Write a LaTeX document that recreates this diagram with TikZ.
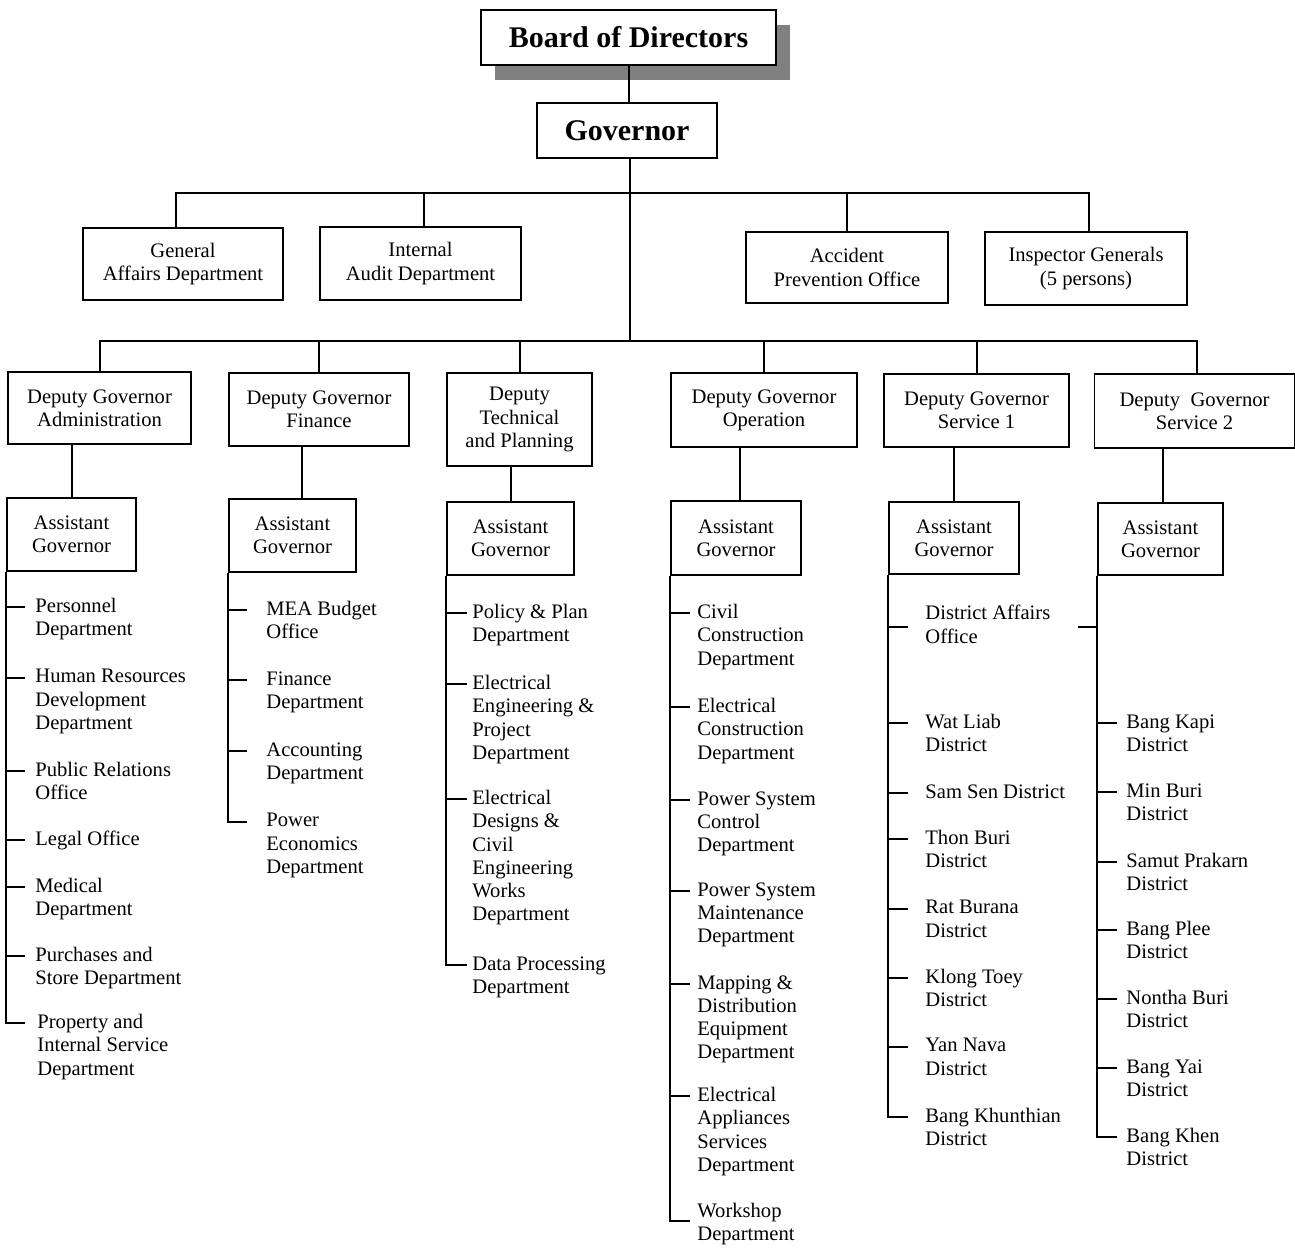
\documentclass[tikz,border=0pt]{standalone}
\usepackage{fontspec}
\setmainfont{Liberation Serif}
\usetikzlibrary{shadows}

\newcommand\orgfont{\fontsize{10.3}{11.6}\selectfont}
\newcommand\bigfont{\fontsize{15}{18}\selectfont\bfseries}

% department hanging from an assistant governor's spine
% #1 name, #2 assistant box, #3 text x, #4 stub y, #5 gap before text, #6 text
\newcommand\dept[6]{%
  \node[item] (#1) at (#3,#4-9) {#6};
  \coordinate (#1-tip) at (#3-#5,#4);
  \draw[stub] (#2.south west |- #1-tip) -- (#1-tip);}

\tikzset{
  box/.style={draw,line width=0.9pt,fill=white,align=center,font=\orgfont,inner sep=0pt},
  item/.style={anchor=north west,align=left,font=\orgfont,inner sep=0pt},
  wire/.style={line width=1pt},
  stub/.style={line width=0.8pt},
}

\begin{document}
\begin{tikzpicture}[x=0.5pt,y=-0.5pt]
\useasboundingbox (0,0) rectangle (1295,1248);

% top of the hierarchy
\node[box,font=\bigfont,minimum width=147.5pt,minimum height=27.5pt,
      drop shadow={shadow xshift=7pt,shadow yshift=-7.5pt,fill=black!50,opacity=1}]
  (board) at (628.5,37.5) {Board of Directors};
\node[box,font=\bigfont,minimum width=90pt,minimum height=27.5pt]
  (gov) at (627,130.5) {Governor};

% staff units
\node[box,minimum width=100pt,minimum height=36pt]   (gen) at (183,264)     {General\\Affairs Department};
\node[box,minimum width=100.5pt,minimum height=36.5pt] (aud) at (420.5,263.5) {Internal\\Audit Department};
\node[box,minimum width=101pt,minimum height=35.5pt] (acc) at (847,267.5)   {Accident\\Prevention Office};
\node[box,minimum width=101pt,minimum height=36.5pt] (ins) at (1086,268.5)  {Inspector Generals\\(5 persons)};

% deputy governors
\node[box,minimum width=91.5pt,minimum height=36pt]   (dA)  at (99.5,408)   {Deputy Governor\\Administration};
\node[box,minimum width=90pt,minimum height=36.5pt]   (dF)  at (319,409.5)  {Deputy Governor\\Finance};
\node[box,minimum width=72.5pt,minimum height=46.5pt] (dT)  at (519.5,419.5) {Deputy\\Technical\\and Planning};
\node[box,minimum width=93pt,minimum height=37pt]     (dO)  at (764,410)    {Deputy Governor\\Operation};
\node[box,minimum width=92.5pt,minimum height=36.5pt] (dS1) at (976.5,410.5) {Deputy Governor\\Service 1};
\node[box,minimum width=100pt,minimum height=37pt]    (dS2) at (1194.5,411) {Deputy~ Governor\\Service 2};

% assistant governors
\node[box,minimum width=64.5pt,minimum height=36.5pt] (aA)  at (71.5,534.5)  {Assistant\\Governor};
\node[box,minimum width=63.5pt,minimum height=36.5pt] (aF)  at (292.5,535.5) {Assistant\\Governor};
\node[box,minimum width=63.5pt,minimum height=36.5pt] (aT)  at (510.5,538.5) {Assistant\\Governor};
\node[box,minimum width=65pt,minimum height=37pt]     (aO)  at (736,538)     {Assistant\\Governor};
\node[box,minimum width=65pt,minimum height=36pt]     (aS1) at (954,538)     {Assistant\\Governor};
\node[box,minimum width=62.5pt,minimum height=36pt]   (aS2) at (1160.5,539)  {Assistant\\Governor};

% main connectors
\draw[wire] (board.south) -- (board.south |- gov.north);
\path (gov.south) ++(3,34) coordinate (hub1) ++(0,148) coordinate (hub2);
\draw[wire] ([xshift=1.5pt]gov.south) -- (hub2);
\draw[wire] ([xshift=-3.5pt]gen.north) |- (hub1) -| ([xshift=1.5pt]ins.north);
\draw[wire] ([xshift=1.75pt]aud.north) |- (hub1);
\draw[wire] (acc.north) |- (hub1);
\draw[wire] (dA.north) |- (hub2) -| ([xshift=1.25pt]dS2.north);
\draw[wire] (dF.north) |- (hub2);
\draw[wire] (dT.north) |- (hub2);
\draw[wire] (dO.north) |- (hub2);
\draw[wire] (dS1.north) |- (hub2);

\draw[wire] (aA.north) -- (aA.north |- dA.south);
\draw[wire] ([xshift=4.75pt]aF.north) -- ++(0,-53);
\draw[wire] (aT.north) -- (aT.north |- dT.south);
\draw[wire] ([xshift=2pt]aO.north) -- ++(0,-54);
\draw[wire] (aS1.north) -- (aS1.north |- dS1.south);
\draw[wire] ([xshift=1.25pt]aS2.north) -- ++(0,-54);

% Administration
\dept{a1}{aA}{35}{607}{10}{Personnel\\Department}
\dept{a2}{aA}{35}{678}{10}{Human Resources\\Development\\Department}
\dept{a3}{aA}{35}{771}{10}{Public Relations\\Office}
\dept{a4}{aA}{35}{840}{10}{Legal Office}
\dept{a5}{aA}{35}{887}{10}{Medical\\Department}
\dept{a6}{aA}{35}{956}{10}{Purchases and\\Store Department}
\dept{a7}{aA}{37}{1023}{12}{Property and\\Internal Service\\Department}
\draw[wire] (aA.south west) |- (a7-tip);

% Finance
\dept{f1}{aF}{266}{610}{19}{MEA Budget\\Office}
\dept{f2}{aF}{266}{680}{19}{Finance\\Department}
\dept{f3}{aF}{266}{751}{19}{Accounting\\Department}
\dept{f4}{aF}{266}{822}{19}{Power\\Economics\\Department}
\draw[wire] (aF.south west) |- (f4-tip);

% Technical and Planning
\dept{t1}{aT}{472}{613}{5}{Policy \& Plan\\Department}
\dept{t2}{aT}{472}{684}{5}{Electrical\\Engineering \&\\Project\\Department}
\dept{t3}{aT}{472}{799}{5}{Electrical\\Designs \&\\Civil\\Engineering\\Works\\Department}
\dept{t4}{aT}{472}{965}{5}{Data Processing\\Department}
\draw[wire] (aT.south west) |- (t4-tip);

% Operation
\dept{o1}{aO}{697}{613}{7}{Civil\\Construction\\Department}
\dept{o2}{aO}{697}{707}{7}{Electrical\\Construction\\Department}
\dept{o3}{aO}{697}{800}{7}{Power System\\Control\\Department}
\dept{o4}{aO}{697}{891}{7}{Power System\\Maintenance\\Department}
\dept{o5}{aO}{697}{984}{7}{Mapping \&\\Distribution\\Equipment\\Department}
\dept{o6}{aO}{697}{1096}{7}{Electrical\\Appliances\\Services\\Department}
% the workshop text sits a little above its stub
\node[item] (o7) at (697,1203) {Workshop\\Department};
\coordinate (o7-tip) at (690,1221);
\draw[wire] (aO.south west) |- (o7-tip);

% Service 1
\node[item] (s1) at (925,605) {District Affairs\\Office};
\coordinate (s1-tip) at (908,627);
\draw[stub] (aS1.south west |- s1-tip) -- (s1-tip);
\coordinate (s1-out) at (1078,627);
\draw[stub] (s1-out) -- (aS2.south west |- s1-out);
\dept{s2}{aS1}{925}{723}{17}{Wat Liab\\District}
\dept{s3}{aS1}{925}{793}{17}{Sam Sen District}
\dept{s4}{aS1}{925}{839}{17}{Thon Buri\\District}
\dept{s5}{aS1}{925}{909}{17}{Rat Burana\\District}
\dept{s6}{aS1}{925}{978}{17}{Klong Toey\\District}
\dept{s7}{aS1}{925}{1047}{17}{Yan Nava\\District}
\dept{s8}{aS1}{925}{1117}{17}{Bang Khunthian\\District}
\draw[wire] (aS1.south west) |- (s8-tip);

% Service 2
\dept{b1}{aS2}{1126}{723}{9}{Bang Kapi\\District}
\dept{b2}{aS2}{1126}{792}{9}{Min Buri\\District}
\dept{b3}{aS2}{1126}{862}{9}{Samut Prakarn\\District}
\dept{b4}{aS2}{1126}{930}{9}{Bang Plee\\District}
\dept{b5}{aS2}{1126}{999}{9}{Nontha Buri\\District}
\dept{b6}{aS2}{1126}{1068}{9}{Bang Yai\\District}
\dept{b7}{aS2}{1126}{1137}{9}{Bang Khen\\District}
\draw[wire] (aS2.south west) |- (b7-tip);
\end{tikzpicture}
\end{document}
